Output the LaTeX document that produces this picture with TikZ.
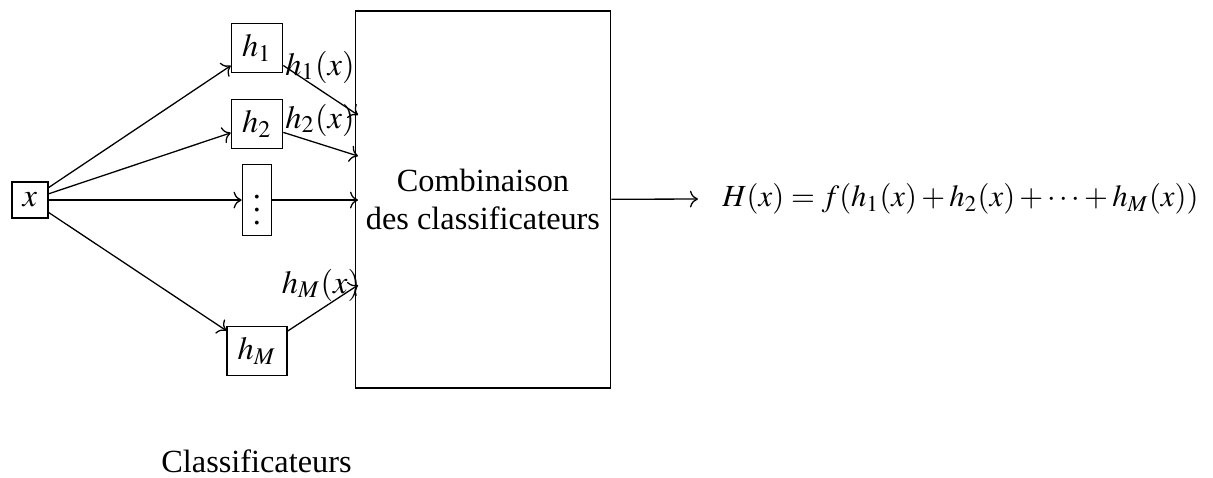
\documentclass[tikz,border=0pt]{standalone}
\usepackage{amsmath}
\usepackage{mathptmx}
\usepackage[no-math]{fontspec}
\setmainfont{Liberation Serif}
\usetikzlibrary{arrows.meta}

\begin{document}
\begin{tikzpicture}[line width=0.4pt,boite/.style={draw},etiq/.style={inner sep=0pt}]
  \useasboundingbox (0,0) rectangle (13.2,5.191);
  % ===================== entree et classificateurs =====================
  \node[boite] (x) at (0.326,3.014){$x$};
  \node[boite] (h1) at (2.797,4.668){$h_1$};
  \node[boite] (h2) at (2.797,3.841){$h_2$};
  \node[boite] (hdots) at (2.797,3.014){$\vdots$};
  \node[boite] (hM) at (2.797,1.371){$h_M$};
  % combinaison
  \node[boite,minimum width=2.72cm,minimum height=4.10cm,align=center] (comb) at (5.256,3.020){Combinaison\\des classificateurs};
  % sortie
  \node[anchor=west,font=\fontsize{9.5pt}{11pt}\selectfont] (H) at (7.737,3.025){$H(x) = f(h_1(x) + h_2(x) + \cdots + h_M(x))$};
  \node[anchor=base] (titre) at (2.791,0.044){Classificateurs};
  % points d'entree sur la combinaison
  \coordinate (e1) at (3.896,3.939);
  \coordinate (e2) at (3.896,3.493);
  \coordinate (e3) at (3.896,3.014);
  \coordinate (eM) at (3.896,2.089);
  % ===================== fleches =====================
  \draw[->] (x) -- (h1);
  \draw[->] (x) -- (h2);
  \draw[->] (x) -- (hdots);
  \draw[->] (x) -- (hM);
  \draw[->] (h1) -- (e1); \node[etiq] (l1) at (3.482,4.462){$h_1(x)$};
  \draw[->] (h2) -- (e2); \node[etiq] (l2) at (3.482,3.885){$h_2(x)$};
  \draw[->] (hdots) -- (e3);
  \draw[->] (hM) -- (eM); \node[etiq] (lM) at (3.493,2.089){$h_M(x)$};
  \draw[->] (comb) -- (H.west-|7.595,0);
\end{tikzpicture}
\end{document}
